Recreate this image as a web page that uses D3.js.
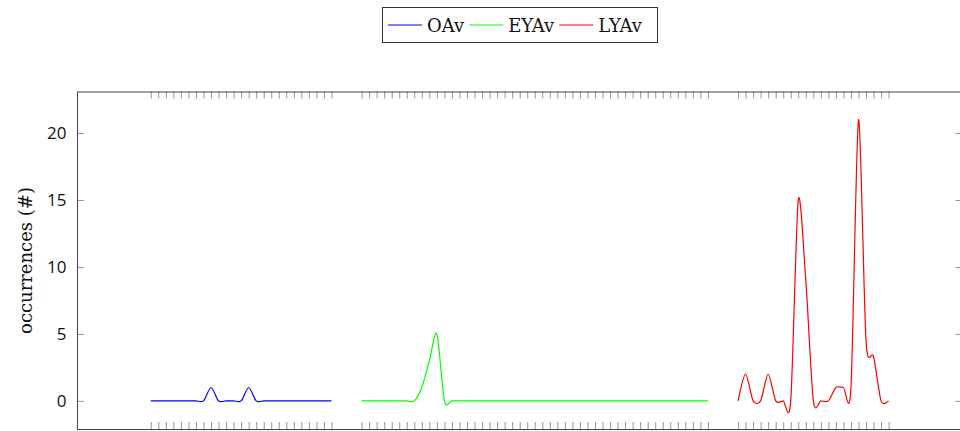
<!DOCTYPE html>
<html lang="en">
<head>
<meta charset="UTF-8">
<title>occurrences</title>
<style>
    body{
        margin: 0;
        background-color: white;
    }
    svg{
        display: block;
    }
    .ytick text{
        font-family: "Open Sans", sans-serif;
        font-size: 17px;
        fill: #111;
    }
    .serif{
        font-family: "DejaVu Serif", serif;
        font-size: 18px;
        fill: #111;
    }
</style>
</head>
<body>
<div id="chart"></div>
<script src="https://d3js.org/d3.v7.min.js"></script>
<script>

// series values, each series starts at its own x index
let oavStart = 0
let oav = [0,0,0,0,0,0,0,0,1,0,0,0,0,1,0,0,0,0,0,0,0,0,0,0,0]

let eyavStart = 28
let eyav = [0,0,0,0,0,0,0,0,1,3,5,0,0,0,0,0,0,0,0,0,0,0,0,0,
            0,0,0,0,0,0,0,0,0,0,0,0,0,0,0,0,0,0,0,0,0,0,0]

let lyavStart = 78
let lyav = [0,2,0,0,2,0,0,0,15,9,0,0,0,1,1,1,21,4.5,3.3,0,0]

let seriesNames = ["OAv","EYAv","LYAv"]
let seriesColors = ["#0000ff","#00ff00","#ff0000"]
let yTicks = [0,5,10,15,20]

let W = 960, H = 431

let series = [
    {name: seriesNames[0], color: seriesColors[0], values: oav.map((v,i)=>({x: oavStart+i, y: v}))},
    {name: seriesNames[1], color: seriesColors[1], values: eyav.map((v,i)=>({x: eyavStart+i, y: v}))},
    {name: seriesNames[2], color: seriesColors[2], values: lyav.map((v,i)=>({x: lyavStart+i, y: v}))}
]
let allX = []
series.forEach(s=>s.values.forEach(d=>allX.push(d.x)))

let xScale = d3.scaleLinear().domain([-9.8, 107.8]).range([77, 962.4])
let yScale = d3.scaleLinear().domain([-2.1, 23.1]).range([429, 91.5])

let svg = d3.select("#chart")
    .append("svg")
    .attr("width", W)
    .attr("height", H)

// x ticks (no labels) on bottom and top, pointing inward
let xb = svg.append("g")
    .attr("transform", `translate(0,${yScale.range()[0]})`)
    .call(d3.axisBottom(xScale).tickValues(allX).tickSize(-7).tickFormat(""))
let xt = svg.append("g")
    .attr("transform", `translate(0,${yScale.range()[1]})`)
    .call(d3.axisTop(xScale).tickValues(allX).tickSize(-7).tickFormat(""))

// y ticks left with labels, right without
let yl = svg.append("g")
    .attr("class","ytick")
    .attr("transform", `translate(${xScale.range()[0]},0)`)
    .call(d3.axisLeft(yScale).tickValues(yTicks).tickSize(-7).tickPadding(10.5))
let yr = svg.append("g")
    .attr("transform", `translate(${xScale.range()[1]},0)`)
    .call(d3.axisRight(yScale).tickValues(yTicks).tickSize(-7).tickFormat(""))

svg.selectAll(".domain").remove()
svg.selectAll(".tick line")
    .attr("stroke","#8a8a8a")
    .attr("stroke-width",0.9)
yl.selectAll("text").attr("font-family",null).attr("font-size",null)

// frame
svg.append("rect")
    .attr("x", xScale.range()[0]+0.5)
    .attr("y", yScale.range()[1]+0.5)
    .attr("width", xScale.range()[1]-xScale.range()[0])
    .attr("height", yScale.range()[0]-yScale.range()[1])
    .attr("fill","none")
    .attr("stroke","#444")
    .attr("stroke-width",1)

let line = d3.line()
    .x(d => xScale(d.x))
    .y(d => yScale(d.y))
    .curve(d3.curveCardinal.tension(0.2))

svg.selectAll(".series")
    .data(series)
    .join("path")
    .attr("class","series")
    .attr("d", d => line(d.values))
    .attr("stroke", d => d.color)
    .attr("stroke-width", 1.2)
    .attr("fill","none")

// y axis label
svg.append("text")
    .attr("class","serif")
    .attr("transform",`translate(31.5,260.5) rotate(-90)`)
    .attr("text-anchor","middle")
    .text("occurrences (#)")

// legend
let legend = svg.append("g")
legend.append("rect")
    .attr("x",382.5)
    .attr("y",7.5)
    .attr("width",275)
    .attr("height",35)
    .attr("fill","white")
    .attr("stroke","#333")
    .attr("stroke-width",1)

let lx = 388
series.forEach(s=>{
    legend.append("line")
        .attr("x1",lx).attr("x2",lx+34)
        .attr("y1",25).attr("y2",25)
        .attr("stroke",s.color)
        .attr("stroke-width",1.2)
    let t = legend.append("text")
        .attr("class","serif")
        .attr("x",lx+39)
        .attr("y",31.5)
        .text(s.name)
    lx = lx + 39 + t.node().getComputedTextLength() + 5
})

</script>
</body>
</html>
